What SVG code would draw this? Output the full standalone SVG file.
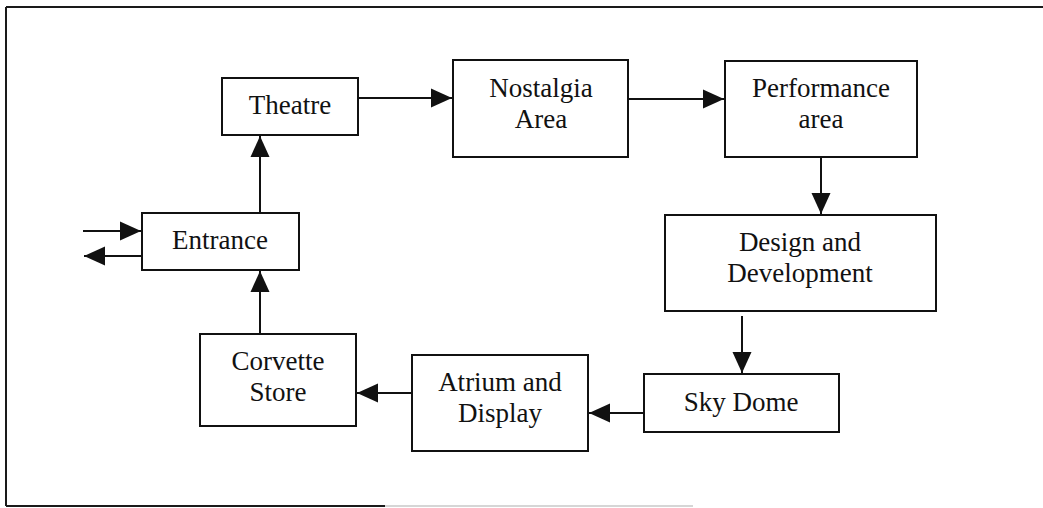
<svg xmlns="http://www.w3.org/2000/svg" width="1043" height="508" viewBox="0 0 1043 508">
<style>
.box{fill:#fff;stroke:#111;stroke-width:2}
.lbl{font-family:"Liberation Serif","Times New Roman",serif;font-size:27px;fill:#111;text-anchor:middle}
.con{stroke:#111;stroke-width:2;fill:none;marker-end:url(#ah)}
.frm{stroke:#1a1a1a;stroke-width:2;fill:none}
</style>
<defs>
<marker id="ah" markerUnits="userSpaceOnUse" markerWidth="22" markerHeight="20" viewBox="0 0 22 20" refX="21" refY="10" orient="auto">
<path d="M0,0.5 L21,10 L0,19.5 Z" fill="#111"/>
</marker>
</defs>
<rect x="0" y="0" width="1043" height="508" fill="#fff"/>
<g id="frame">
<line class="frm" x1="6" y1="7" x2="1043" y2="7"/>
<line class="frm" x1="6" y1="7" x2="6" y2="506"/>
<line class="frm" x1="6" y1="506" x2="385" y2="506"/>
<line x1="385" y1="506" x2="693" y2="506" stroke="#c8c8c8" stroke-width="1.5"/>
</g>
<g id="connectors">
<line class="con" x1="260" y1="213" x2="260" y2="136"/>
<line class="con" x1="358" y1="98" x2="452" y2="98"/>
<line class="con" x1="629" y1="99" x2="724" y2="99"/>
<line class="con" x1="821" y1="158" x2="821" y2="214"/>
<line class="con" x1="742" y1="316" x2="742" y2="373"/>
<line class="con" x1="644" y1="413" x2="589" y2="413"/>
<line class="con" x1="412" y1="393" x2="357" y2="393"/>
<line class="con" x1="260" y1="334" x2="260" y2="271"/>
<line class="con" x1="83" y1="231" x2="141" y2="231"/>
<line class="con" x1="142" y1="256" x2="84" y2="256"/>
</g>
<g id="theatre">
<rect class="box" x="222" y="78" width="136" height="57"/>
<text class="lbl" x="290" y="114">Theatre</text>
</g>
<g id="nostalgia">
<rect class="box" x="453" y="60" width="175" height="97"/>
<text class="lbl" x="541" y="97">Nostalgia</text>
<text class="lbl" x="541" y="128">Area</text>
</g>
<g id="performance">
<rect class="box" x="725" y="61" width="192" height="96"/>
<text class="lbl" x="821" y="97">Performance</text>
<text class="lbl" x="821" y="128">area</text>
</g>
<g id="design">
<rect class="box" x="665" y="215" width="271" height="96"/>
<text class="lbl" x="800" y="251">Design and</text>
<text class="lbl" x="800" y="282">Development</text>
</g>
<g id="skydome">
<rect class="box" x="644" y="374" width="195" height="58"/>
<text class="lbl" x="741" y="411">Sky Dome</text>
</g>
<g id="atrium">
<rect class="box" x="412" y="355" width="176" height="96"/>
<text class="lbl" x="500" y="391">Atrium and</text>
<text class="lbl" x="500" y="422">Display</text>
</g>
<g id="corvette">
<rect class="box" x="200" y="334" width="156" height="92"/>
<text class="lbl" x="278" y="370">Corvette</text>
<text class="lbl" x="278" y="401">Store</text>
</g>
<g id="entrance">
<rect class="box" x="142" y="213" width="157" height="57"/>
<text class="lbl" x="220" y="249">Entrance</text>
</g>
</svg>
